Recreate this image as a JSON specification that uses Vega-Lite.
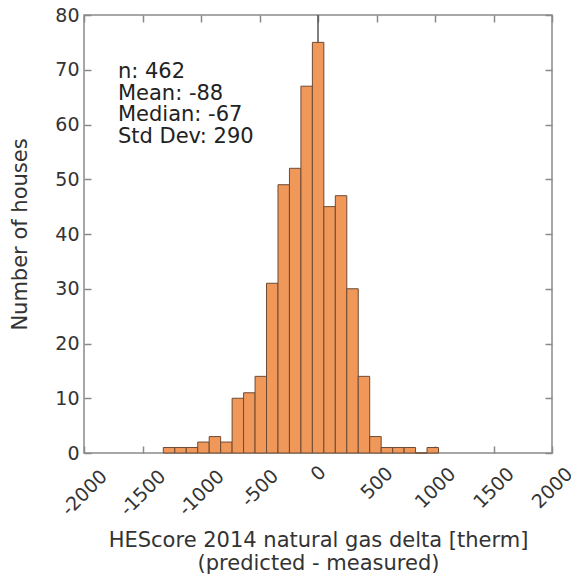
{
  "$schema": "https://vega.github.io/schema/vega-lite/v6.json",
  "width": 468,
  "height": 438,
  "autosize": {"type": "none"},
  "padding": {"left": 84, "top": 15, "right": 19, "bottom": 123},
  "background": "white",
  "config": {
    "view": {"stroke": "#8a8a8a", "strokeWidth": 1.5},
    "font": "DejaVu Sans",
    "axis": {
      "labelFont": "DejaVu Sans",
      "titleFont": "DejaVu Sans",
      "labelFontSize": 19,
      "titleFontSize": 21,
      "labelColor": "#333333",
      "titleColor": "#333333",
      "tickColor": "#8a8a8a",
      "tickWidth": 1.5,
      "domain": false,
      "grid": false,
      "titleFontWeight": "normal"
    }
  },
  "datasets": {
    "bins": [
      {"start": -1322, "end": -1224, "count": 1},
      {"start": -1224, "end": -1126, "count": 1},
      {"start": -1126, "end": -1028, "count": 1},
      {"start": -1028, "end": -930, "count": 2},
      {"start": -930, "end": -832, "count": 3},
      {"start": -832, "end": -734, "count": 2},
      {"start": -734, "end": -636, "count": 10},
      {"start": -636, "end": -538, "count": 11},
      {"start": -538, "end": -440, "count": 14},
      {"start": -440, "end": -342, "count": 31},
      {"start": -342, "end": -244, "count": 49},
      {"start": -244, "end": -146, "count": 52},
      {"start": -146, "end": -48, "count": 67},
      {"start": -48, "end": 50, "count": 75},
      {"start": 50, "end": 148, "count": 45},
      {"start": 148, "end": 246, "count": 47},
      {"start": 246, "end": 344, "count": 30},
      {"start": 344, "end": 442, "count": 14},
      {"start": 442, "end": 540, "count": 3},
      {"start": 540, "end": 638, "count": 1},
      {"start": 638, "end": 736, "count": 1},
      {"start": 736, "end": 834, "count": 1},
      {"start": 834, "end": 932, "count": 0},
      {"start": 932, "end": 1030, "count": 1}
    ],
    "zero": [{"v": 0}],
    "stats": [{"label": ["n: 462", "Mean: -88", "Median: -67", "Std Dev: 290"]}]
  },
  "layer": [
    {
      "data": {"name": "zero"},
      "mark": {"type": "rule", "color": "#555555", "strokeWidth": 1.5},
      "encoding": {
        "x": {"field": "v", "type": "quantitative", "scale": {"domain": [-2000, 2000], "nice": false}, "axis": null}
      }
    },
    {
      "data": {"name": "bins"},
      "mark": {"type": "bar", "fill": "#f0975a", "stroke": "#6e4a33", "strokeWidth": 1},
      "encoding": {
        "x": {
          "field": "start", "type": "quantitative",
          "scale": {"domain": [-2000, 2000], "nice": false},
          "axis": {
            "orient": "bottom",
            "values": [-2000, -1500, -1000, -500, 0, 500, 1000, 1500, 2000],
            "labelExpr": "datum.value + ''",
            "tickSize": -7,
            "labelAngle": -45,
            "labelAlign": "center",
            "labelBaseline": "middle",
            "labelPadding": 27,
            "encoding": {
              "labels": {
                "dx": {"value": {"signal": "-3.45 * (length(toString(datum.value)) - 1)"}},
                "dy": {"value": {"signal": "3.45 * (length(toString(datum.value)) - 1)"}}
              }
            },
            "title": ["HEScore 2014 natural gas delta [therm]", "(predicted - measured)"],
            "titlePadding": 10,
            "titleLineHeight": 23
          }
        },
        "x2": {"field": "end"},
        "y": {
          "field": "count", "type": "quantitative",
          "scale": {"domain": [0, 80], "nice": false},
          "axis": {
            "orient": "left",
            "values": [0, 10, 20, 30, 40, 50, 60, 70, 80],
            "tickSize": -7,
            "labelPadding": 12,
            "title": "Number of houses",
            "titlePadding": 24
          }
        },
        "y2": {"datum": 0}
      }
    },
    {
      "data": {"name": "stats"},
      "mark": {"type": "text", "align": "left", "baseline": "top", "fontSize": 21, "lineHeight": 21.7, "color": "#222222", "font": "DejaVu Sans"},
      "encoding": {
        "text": {"field": "label"},
        "x": {
          "datum": -1710, "type": "quantitative",
          "scale": {"domain": [-2000, 2000], "nice": false},
          "axis": {"orient": "top", "values": [-2000, -1500, -1000, -500, 0, 500, 1000, 1500, 2000], "tickSize": -7, "labels": false, "title": null}
        },
        "y": {
          "datum": 71.6, "type": "quantitative",
          "scale": {"domain": [0, 80], "nice": false},
          "axis": {"orient": "right", "values": [0, 10, 20, 30, 40, 50, 60, 70, 80], "tickSize": -7, "labels": false, "title": null}
        }
      }
    }
  ],
  "resolve": {"axis": {"x": "independent", "y": "independent"}}
}
